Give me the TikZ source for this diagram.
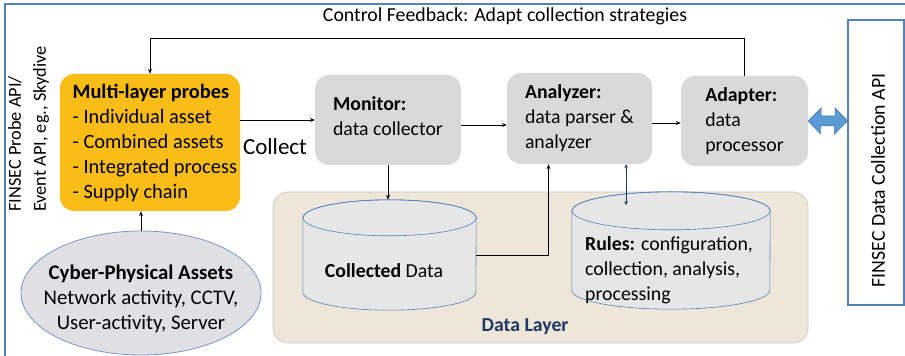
\documentclass[tikz,border=0pt]{standalone}
\usepackage{fontspec}
\setmainfont{Carlito}
\usetikzlibrary{shapes.geometric,arrows.meta,calc}
\definecolor{probeorange}{RGB}{250,188,22}
\definecolor{boxgray}{RGB}{217,217,217}
\definecolor{cylfill}{RGB}{230,230,230}
\definecolor{cylborder}{RGB}{84,130,190}
\definecolor{ellfill}{RGB}{224,224,228}
\definecolor{ellborder}{RGB}{120,150,200}
\definecolor{dlfill}{RGB}{238,230,216}
\definecolor{dlborder}{RGB}{200,195,185}
\definecolor{dlblue}{RGB}{31,56,100}
\definecolor{framecol}{RGB}{80,130,190}
\definecolor{arrowblue}{RGB}{91,155,213}
\definecolor{arrowedge}{RGB}{65,113,156}
\newcommand\cylshape[3]{%
  \path[cylstyle] ($(#1.north west)+(0,-#3)$) -- ($(#1.south west)+(0,#3)$)
    arc[start angle=180,end angle=360,x radius=#2pt,y radius=#3pt]
    -- ($(#1.north east)+(0,-#3)$)
    arc[start angle=0,end angle=180,x radius=#2pt,y radius=#3pt] -- cycle;
  \draw[cylstyle,fill=none] ($(#1.north)+(0,-#3)$) ellipse[x radius=#2pt, y radius=#3pt];
}
\tikzset{
  probebox/.style={draw=none, fill=probeorange, rounded corners=14pt, inner sep=0pt},
  graybox/.style={draw=none, fill=boxgray, rounded corners=14pt, align=left, inner sep=0pt},
  apibox/.style={draw=framecol, line width=1.1pt, fill=white, inner sep=0pt},
  cylstyle/.style={fill=cylfill, draw=cylborder, line width=0.6pt},
  holder/.style={inner sep=0pt, draw=none},
  datalayer/.style={fill=dlfill, draw=dlborder, line width=0.6pt, rounded corners=15pt, inner sep=0pt},
  assets/.style={ellipse, fill=ellfill, draw=ellborder, line width=0.8pt, inner sep=0pt},
  conn/.style={line width=0.9pt, -{Stealth[length=5pt,width=4pt]}},
  bigarrow/.style={fill=arrowblue, draw=arrowedge, line width=0.5pt},
}
\begin{document}
\begin{tikzpicture}[x=1pt,y=1pt,font=\fontsize{19.8}{25}\selectfont]
\useasboundingbox (0,0) rectangle (905,356);
% frame
\draw[framecol, line width=1.2pt] (905,352) -- (5,352) -- (5,0);
% data layer
\node[datalayer, minimum width=535pt, minimum height=151pt] (dl) at (540.5,88.5) {};
\node[holder, minimum width=173pt, minimum height=110pt] (cd) at (389.5,101) {};
\node[holder, minimum width=198pt, minimum height=117pt] (rules) at (671,105.5) {};
\cylshape{cd}{86.5}{18}
\cylshape{rules}{99}{19}
\node (cdtext) at (384,85) {\textbf{Collected} Data};
\node[anchor=west, align=left, inner sep=0pt] (rulestext) at (585,86) {\textbf{Rules:} configuration,\\collection, analysis,\\processing};
\node[text=dlblue] (dltext) at (525,29) {\textbf{Data Layer}};
% boxes
\node[probebox, minimum width=180pt, minimum height=137pt] (probes) at (150,213.5) {};
\node[anchor=west, align=left, inner sep=0pt, font=\fontsize{20.4}{25}\selectfont] (probestext) at (72.5,213.5) {\textbf{Multi-layer probes}\\- Individual asset\\- Combined assets\\- Integrated process\\- Supply chain};
\node[graybox, minimum width=146pt, minimum height=90pt] (monitor) at (388,236) {\textbf{Monitor:}\\data collector\rule[-8pt]{0pt}{8pt}};
\node[graybox, minimum width=145pt, minimum height=91pt] (analyzer) at (579.5,237.5) {\textbf{Analyzer:}\\data parser \&\\analyzer};
\node[graybox, minimum width=127pt, minimum height=90pt] (adapter) at (744.5,235) {\textbf{Adapter:}\\data\\processor};
\node[apibox, minimum width=56pt, minimum height=285pt] (api) at (876,193.5) {};
\node[rotate=90] (apitext) at (878,175.5) {FINSEC Data Collection API};
\node[rotate=90, anchor=west, align=left, inner sep=0pt, font=\fontsize{18.3}{25}\selectfont] (probeapi) at (28.5,144) {FINSEC Probe API/\\Event API, eg., Skydive};
\node[assets, minimum width=240pt, minimum height=124pt] (cpa) at (141,63) {};
\node[align=center, font=\fontsize{20.8}{25}\selectfont] (cpatext) at (141,57) {\textbf{Cyber-Physical Assets}\\Network activity, CCTV,\\User-activity, Server};
\node (cf) at (505,340) {Control Feedback: Adapt collection strategies};
\node[font=\fontsize{23}{28}\selectfont] (collect) at (275,209) {Collect};
% connectors
\draw[conn] (adapter.north) -- ++(0,37) -| (probes.north);
\draw[conn] (probes.east |- monitor.west) -- (monitor.west);
\draw[conn] ([yshift=-5pt]monitor.east) -- ([yshift=-5pt]monitor.east -| analyzer.west);
\draw[conn] ([yshift=-4.5pt]analyzer.east) -- ([yshift=-4.5pt]analyzer.east -| adapter.west);
\draw[conn] (monitor.south) -- (monitor.south |- cd.north);
\draw[conn] (cd.east) -| ([xshift=-31pt]analyzer.south);
\draw[line width=0.8pt, draw=dlblue, {Stealth[length=4pt,width=3.5pt]}-{Stealth[length=4pt,width=3.5pt]}] ([xshift=46.5pt]analyzer.south) -- ++(0,-41);
\draw[conn] (cpa.north) -- (cpa.north |- probes.south);
\path[bigarrow] (adapter.east) -- ++(13,13) -- ++(0,-8) -- ++(14,0) -- ++(0,8) -- (api.west |- adapter.east) -- ++(-13,-13) -- ++(0,8) -- ++(-14,0) -- ++(0,-8) -- cycle;
\end{tikzpicture}
\end{document}
